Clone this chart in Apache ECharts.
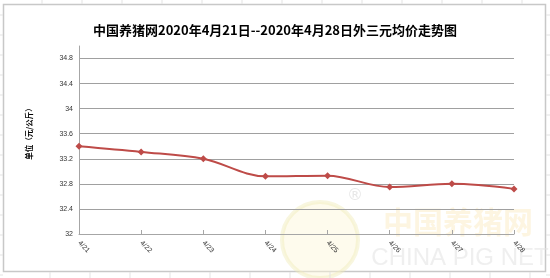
<!DOCTYPE html>
<html><head><meta charset="utf-8">
<script src="https://cdn.jsdelivr.net/npm/echarts@6/dist/echarts.min.js"></script>
<style>html,body{margin:0;padding:0;background:#fff}#c{width:550px;height:278px}</style>
</head><body><div id="c"></div>
<script>
const titleText = '中国养猪网2020年4月21日--2020年4月28日外三元均价走势图';
const categories = ['4/21','4/22','4/23','4/24','4/25','4/26','4/27','4/28'];
const prices = [33.40, 33.31, 33.20, 32.92, 32.93, 32.75, 32.80, 32.72];
const yName = '单位（元/公斤）';

const chart = echarts.init(document.getElementById('c'), null, {renderer:'canvas'});

const deco = [];
const cellX = [42,82,122,162,202,242,282,322,362,402,442,482,522];
cellX.forEach(x=>{
  deco.push({type:'line',shape:{x1:x,y1:0,x2:x,y2:4},style:{stroke:'#e3e3e3',lineWidth:1},silent:true});
  deco.push({type:'line',shape:{x1:x+8,y1:272,x2:x+8,y2:278},style:{stroke:'#e3e3e3',lineWidth:1},silent:true});
});
for(let y=15;y<278;y+=20){
  deco.push({type:'line',shape:{x1:546,y1:y,x2:550,y2:y},style:{stroke:'#e3e3e3',lineWidth:1},silent:true});
  deco.push({type:'line',shape:{x1:0,y1:y,x2:3,y2:y},style:{stroke:'#e3e3e3',lineWidth:1},silent:true});
}
deco.push({type:'rect',shape:{x:3.5,y:4.5,width:542,height:267},style:{fill:null,stroke:'#c8c8c8',lineWidth:1.5},silent:true,z:-1});
deco.push({type:'circle',shape:{cx:320,cy:240,r:38},style:{fill:'rgba(252,246,215,0.45)',stroke:'rgba(240,235,185,0.45)',lineWidth:4},silent:true,z:-1});
deco.push({type:'text',style:{x:355,y:196,text:'®',fill:'rgba(215,215,215,0.6)',font:'16px "DejaVu Sans"',align:'center',verticalAlign:'middle'},silent:true,z:-1});
deco.push({type:'text',style:{x:458,y:222,text:'中国养猪网',fill:'rgba(252,238,205,0.6)',font:'bold 30px "Noto Sans CJK SC"',align:'center',verticalAlign:'middle'},silent:true,z:-1});
deco.push({type:'text',style:{x:460,y:258,text:'CHINA PIG NET',fill:'rgba(225,225,225,0.55)',font:'24px "Liberation Sans"',align:'center',verticalAlign:'middle'},silent:true,z:-1});

chart.setOption({
  animation:false,
  backgroundColor:'#ffffff',
  title:{text:titleText,left:'center',top:19,textStyle:{fontSize:13,fontWeight:'bold',color:'#000',fontFamily:'"Noto Sans CJK SC", sans-serif'}},
  grid:{left:79,right:36,top:46,bottom:44,containLabel:false},
  graphic:deco,
  xAxis:{type:'category',data:categories,boundaryGap:false,
    axisLine:{lineStyle:{color:'#a6a6a6',width:1}},
    axisTick:{show:true,inside:true,length:4,lineStyle:{color:'#a6a6a6'}},
    axisLabel:{rotate:-45,fontSize:7,color:'#333',margin:8,fontFamily:'"Liberation Sans", sans-serif'},
    splitLine:{show:false}},
  yAxis:{type:'value',min:32,max:35,interval:0.4,
    name:yName,nameLocation:'middle',nameGap:46,nameRotate:90,
    nameTextStyle:{fontSize:7.5,fontWeight:'bold',color:'#000',fontFamily:'"Noto Sans CJK SC", sans-serif',padding:[0,0,0,16]},
    axisLine:{show:true,lineStyle:{color:'#a6a6a6',width:1}},
    axisTick:{show:false},
    axisLabel:{fontSize:7,color:'#333',margin:6,fontFamily:'"Liberation Sans", sans-serif',
      formatter:v=>{ if (Math.abs(v-35)<1e-6) return ''; return String(Math.round(v*10)/10); }},
    splitLine:{show:true,showMaxLine:false,showMinLine:false,lineStyle:{color:'#a0a0a0',width:1}}},
  series:[{type:'line',data:prices,smooth:0.35,symbol:'diamond',symbolSize:7,
    itemStyle:{color:'#be4b48'},lineStyle:{color:'#be4b48',width:2}}]
});
</script></body></html>
